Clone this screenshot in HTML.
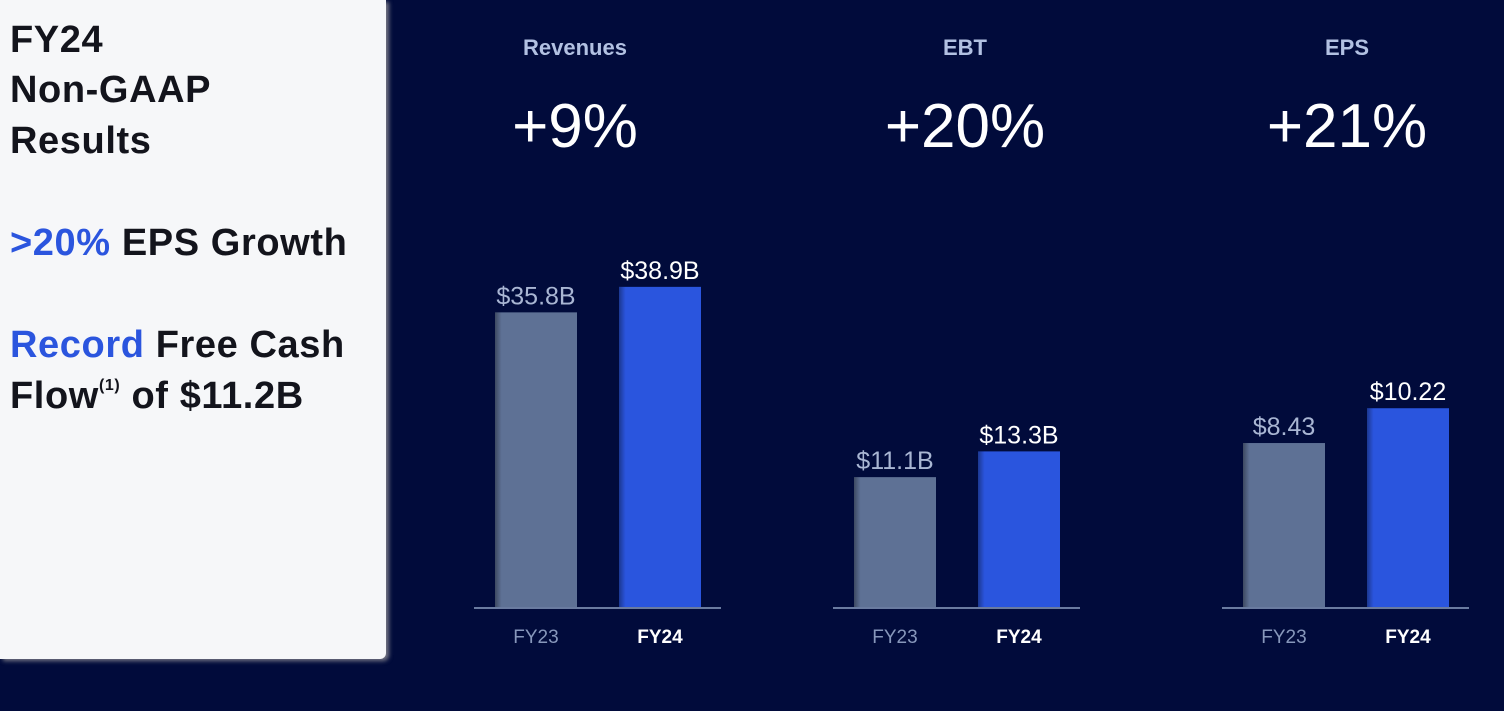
<!DOCTYPE html>
<html><head><meta charset="utf-8"><style>
body{margin:0;width:1504px;height:711px;background:#010b3b;overflow:hidden;font-family:"Liberation Sans",sans-serif;position:relative}
#panel{position:absolute;left:0;top:0;width:386px;height:659px;background:#f6f7f9;border-bottom-right-radius:6px;box-shadow:3px 2px 4px rgba(130,130,140,0.9)}
.t{position:absolute;left:10px;font-weight:bold;font-size:38px;color:#13141c;white-space:nowrap;letter-spacing:0.6px}
.b{color:#2b55de}
sup{font-size:16px;vertical-align:18px}
</style></head><body>
<div id="panel">
<div class="t" style="top:19px">FY24</div>
<div class="t" style="top:69px">Non-GAAP</div>
<div class="t" style="top:120px">Results</div>
<div class="t" style="top:222px"><span class="b">&gt;20%</span> EPS Growth</div>
<div class="t" style="top:324px"><span class="b">Record</span> Free Cash</div>
<div class="t" style="top:375px">Flow<sup>(1)</sup> of $11.2B</div>
</div>
<svg id="chart" width="1504" height="711" style="position:absolute;left:0;top:0">
<defs><linearGradient id="sh" x1="0" x2="1"><stop offset="0" stop-color="#000" stop-opacity="0.35"/><stop offset="0.08" stop-color="#000" stop-opacity="0"/></linearGradient></defs>
</svg>
<script>
const titles=["Revenues","EBT","EPS"];
const growth=["+9%","+20%","+21%"];
const categories=["FY23","FY24"];
const fy23Values=[35.8,11.1,8.43];
const fy24Values=[38.9,13.3,10.22];
const valueLabels23=["$35.8B","$11.1B","$8.43"];
const valueLabels24=["$38.9B","$13.3B","$10.22"];
const pxPerUnit=[8.23,11.7,19.45];
const svg=document.getElementById('chart');
const NS="http://www.w3.org/2000/svg";
const baseY=607;
function mk(tag,attrs,txt){const e=document.createElementNS(NS,tag);for(const k in attrs)e.setAttribute(k,attrs[k]);if(txt!==undefined)e.textContent=txt;svg.appendChild(e);return e;}
const groupLeft=[474,833,1222];
const centers=[575,965,1347];
titles.forEach((t,i)=>{
  const gx=groupLeft[i];
  const yScale=v=>baseY-v*pxPerUnit[i];
  let e=mk('text',{x:centers[i],y:55,'text-anchor':'middle','font-size':22,'font-weight':'bold',fill:'#b2c1e2'},t);
  
  
  e=mk('text',{x:centers[i],y:147,'text-anchor':'middle','font-size':62,'font-weight':'300',fill:'#ffffff'},growth[i]);
  
  
  const vals=[fy23Values[i],fy24Values[i]];
  const labs=[valueLabels23[i],valueLabels24[i]];
  vals.forEach((v,j)=>{
    const x=gx+21+j*124, top=yScale(v);
    let r=mk('rect',{x:x,y:top,width:82,height:baseY-top,fill:j?'#2a55de':'#5e7195'});
    
    
    mk('rect',{x:x,y:top,width:82,height:baseY-top,fill:'url(#sh)'});
    let l=mk('text',{x:x+41,y:top-8,'text-anchor':'middle','font-size':25,fill:j?'#ffffff':'#a9b6d3'},labs[j]);
    
    
    let c=mk('text',{x:x+41,y:643,'text-anchor':'middle','font-size':19,'font-weight':j?'bold':'normal',fill:j?'#ffffff':'#8797bb'},categories[j]);
    
    
  });
  let a=mk('line',{x1:gx,x2:gx+247,y1:baseY+1,y2:baseY+1,stroke:'#6a7ba0','stroke-width':2});
  
  
});
</script>
</body></html>
